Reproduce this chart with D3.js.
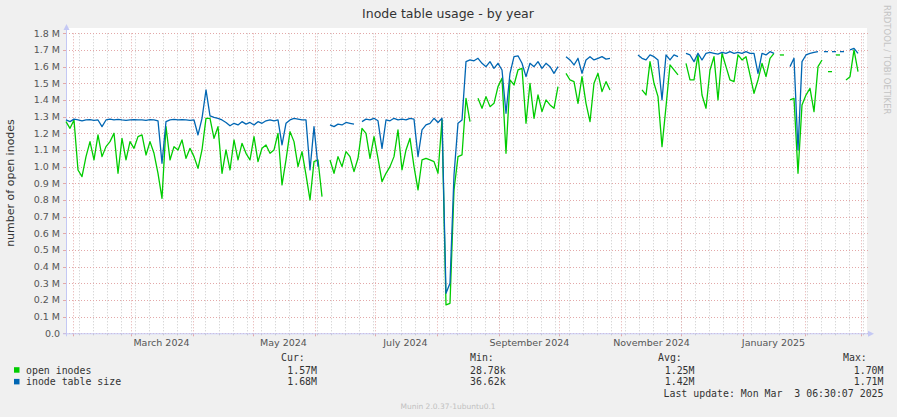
<!DOCTYPE html>
<html><head><meta charset="utf-8">
<script src="https://cdn.jsdelivr.net/npm/d3@7"></script>
<style>body{margin:0;background:#f0f0f0;} svg{display:block} text{white-space:pre}</style>
</head><body><svg id="c" width="897" height="417"></svg>
<script>
const chartTitle = "Inode table usage - by year";
const yAxisTitle = "number of open inodes";
const sideText = "RRDTOOL / TOBI OETIKER";
const footerText = "Munin 2.0.37-1ubuntu0.1";
const lastUpdate = "Last update: Mon Mar  3 06:30:07 2025";
const startDate = "2024-01-28T06:30:00Z";
const endDate = "2025-03-03T06:30:00Z";
const stepDays = 2;

// values in thousands, one sample every 2 days (null = no data)
const openInodes = [
1270,1230,1280,980,940,1060,1150,1040,1190,1060,
1120,1150,1200,960,1170,1040,1150,1110,1180,1190,
1070,1150,1080,960,810,1240,1040,1120,1100,1160,
1050,1110,1060,990,1100,1290,1290,1170,1240,960,
1100,980,1160,1040,1140,1080,1040,1180,1030,1110,
1130,1080,1100,1200,890,1040,1210,1150,1000,1090,
950,800,1030,1040,820,null,1040,960,1060,1000,
1090,1060,970,1050,1230,1200,1050,1180,1050,910,
960,1000,1060,1220,980,1100,1170,1000,860,1040,
1050,1040,1030,960,1280,170,180,860,1060,1070,
1410,1270,null,1410,1350,1420,1360,1380,1480,1530,
1080,1520,1490,1580,1590,1260,1500,1290,1430,1330,
1400,1370,1350,1480,null,1560,1520,1510,1380,1540,
1380,1270,1500,1560,1450,1510,1460,null,null,null,
null,null,null,null,1460,1430,1630,1500,1420,1120,
1360,1610,1580,1550,null,1620,1520,1520,1670,1430,
1350,1580,1660,1400,1680,1600,1520,1510,1670,1640,
1660,1550,1440,1520,1620,1540,1650,1680,null,1670,
null,1400,1410,960,1370,1430,1470,1330,1600,1640,
null,1570,null,1670,null,1520,1540,1700,1570,null
];
const tableSize = [
1280,1270,1285,1280,1275,1280,1282,1278,1280,1240,
1280,1285,1280,1283,1280,1278,1280,1282,1280,1280,
1278,1282,1280,1275,1020,1270,1280,1283,1280,1282,
1280,1278,1280,1190,1290,1460,1305,1295,1290,1280,
1265,1245,1260,1250,1270,1255,1265,1250,1270,1260,
1275,1280,1275,1280,1130,1260,1280,1290,1285,1280,
1280,980,1240,1000,null,null,1250,1240,1255,1250,
1265,1260,1255,null,1270,1285,1280,1290,1275,1110,
1280,1275,1290,1280,1285,1280,1290,1285,1060,1220,
1250,1260,1290,1265,1290,240,300,950,1260,1280,
1630,1640,1635,1650,1620,1600,1630,1590,1620,1580,
1320,1560,1660,1665,1620,1540,1620,1600,1630,1590,
1620,1600,1560,1600,null,1660,1640,1610,1650,1560,
1640,1660,1640,1650,1660,1645,1650,null,null,null,
null,null,null,1670,1650,1640,1670,1660,1640,1400,
1670,1640,1670,1660,null,1680,1670,1630,1680,1640,
1680,1685,1680,1675,1685,1680,1690,1680,1685,1680,
1690,1680,1680,1560,1680,1670,1690,1680,null,null,
null,1600,1650,1100,1630,1670,1680,1685,1690,null,
1690,null,1690,null,1690,null,1700,1710,1680,null
];

const yTicks = [0,100,200,300,400,500,600,700,800,900,1000,1100,1200,1300,1400,1500,1600,1700,1800];
const yTickLabels = ["0.0","0.1 M","0.2 M","0.3 M","0.4 M","0.5 M","0.6 M","0.7 M","0.8 M","0.9 M","1.0 M","1.1 M","1.2 M","1.3 M","1.4 M","1.5 M","1.6 M","1.7 M","1.8 M"];
const xLabelDates = ["2024-03-16","2024-05-16","2024-07-16","2024-09-16","2024-11-16","2025-01-16"];
const xLabels = ["March 2024","May 2024","July 2024","September 2024","November 2024","January 2025"];

const seriesNames = ["open inodes","inode table size"];
const seriesColors = ["#00CC00","#0066B3"];
const curVals = ["1.57M","1.68M"];
const minVals = ["28.78k","36.62k"];
const avgVals = ["1.25M","1.42M"];
const maxVals = ["1.70M","1.71M"];

const svg = d3.select("#c");
const L = 66, R = 866, T = 33.3, B = 333.3;
const t0 = new Date(startDate), t1 = new Date(endDate);
const x = d3.scaleUtc().domain([t0, t1]).range([L, R]);
const y = d3.scaleLinear().domain([0, 1800]).range([B, T]);
const DAY = 864e5;
const dates = openInodes.map((_, i) => new Date(t0.getTime() + i * stepDays * DAY));

// plot background
svg.append("rect").attr("x", L).attr("y", 28).attr("width", R - L + 1).attr("height", B - 28 + 1).attr("fill", "#fff");

// minor vertical grid (weeks)
const g = svg.append("g");
d3.utcSunday.range(t0, t1).forEach(d => {
  const xx = Math.round(x(d)) + 0.5;
  g.append("line").attr("x1", xx).attr("x2", xx).attr("y1", T).attr("y2", B)
    .attr("stroke", "#c8c8c8").attr("stroke-dasharray", "1,2");
  g.append("line").attr("x1", xx).attr("x2", xx).attr("y1", B).attr("y2", B + 2).attr("stroke", "#c8c8c8");
});
// major horizontal grid
yTicks.forEach(v => {
  const yy = Math.round(y(v)) + 0.5;
  g.append("line").attr("x1", L).attr("x2", R + 3).attr("y1", yy).attr("y2", yy)
    .attr("stroke", "#e3a8a8").attr("stroke-dasharray", "1,2");
  g.append("line").attr("x1", L - 3).attr("x2", L).attr("y1", yy).attr("y2", yy).attr("stroke", "#e3a8a8");
});
// major vertical grid (months)
d3.utcMonth.range(t0, t1).forEach(d => {
  const xx = Math.round(x(d)) + 0.5;
  g.append("line").attr("x1", xx).attr("x2", xx).attr("y1", T).attr("y2", B + 3)
    .attr("stroke", "#e3a8a8").attr("stroke-dasharray", "1,2");
  g.append("line").attr("x1", xx).attr("x2", xx).attr("y1", B).attr("y2", B + 3).attr("stroke", "#e3a8a8");
});

// axes lines
const axisColor = "#c4c8f4";
svg.append("line").attr("x1", L + 0.5).attr("x2", L + 0.5).attr("y1", B + 3).attr("y2", 28).attr("stroke", axisColor);
svg.append("path").attr("d", `M${L - 2.5},${30} L${L + 3.5},${30} L${L + 0.5},${24} Z`).attr("fill", axisColor);
svg.append("line").attr("x1", L - 3).attr("x2", R + 2).attr("y1", B + 0.5).attr("y2", B + 0.5).attr("stroke", axisColor);
svg.append("path").attr("d", `M${R + 2},${B - 2.5} L${R + 2},${B + 3.5} L${R + 8},${B + 0.5} Z`).attr("fill", axisColor);

// y labels
svg.append("g").selectAll("text").data(yTicks).join("text")
  .attr("x", 60).attr("y", d => y(d) + 3.5).attr("text-anchor", "end")
  .attr("font-family", "DejaVu Sans").attr("font-size", 9.5).attr("fill", "#555")
  .text((d, i) => yTickLabels[i]);
// x labels
svg.append("g").selectAll("text").data(xLabelDates).join("text")
  .attr("x", d => x(new Date(d + "T00:00:00Z"))).attr("y", B + 13).attr("text-anchor", "middle")
  .attr("font-family", "DejaVu Sans").attr("font-size", 9.5).attr("fill", "#555")
  .text((d, i) => xLabels[i]);

// series
function drawSeries(vals, color) {
  const data = vals.map((v, i) => ({ d: dates[i], v }));
  const line = d3.line().defined(p => p.v != null).x(p => x(p.d)).y(p => y(p.v));
  svg.append("path").attr("d", line(data)).attr("fill", "none").attr("stroke", color)
    .attr("stroke-width", 1.3).attr("stroke-linejoin", "round");
  data.forEach((p, i) => {
    if (p.v == null) return;
    const prev = i > 0 ? data[i - 1].v : null, next = i < data.length - 1 ? data[i + 1].v : null;
    if (prev == null && next == null) {
      const seg = d3.line().x(q => q[0]).y(q => q[1]);
      svg.append("path").attr("d", seg([[x(p.d) - 2, y(p.v)], [x(p.d) + 2, y(p.v)]]))
        .attr("stroke", color).attr("stroke-width", 1.3).attr("fill", "none");
    }
  });
}
drawSeries(openInodes, seriesColors[0]);
drawSeries(tableSize, seriesColors[1]);

// title
svg.append("text").attr("x", 448).attr("y", 18).attr("text-anchor", "middle")
  .attr("font-family", "DejaVu Sans").attr("font-size", 12.5).attr("fill", "#333").text(chartTitle);
// y axis title
svg.append("text").attr("transform", "translate(14,183) rotate(-90)").attr("text-anchor", "middle")
  .attr("font-family", "DejaVu Sans").attr("font-size", 11).attr("fill", "#333").text(yAxisTitle);
// side text
svg.append("text").attr("transform", "translate(884,5) rotate(90)").attr("text-anchor", "start")
  .attr("font-family", "DejaVu Sans").attr("font-size", 8.5).attr("fill", "#c4c4c4").text(sideText);

// legend
const mono = { "font-family": "DejaVu Sans Mono", "font-size": 9.9, "fill": "#333" };
function mtext(xx, yy, s, anchor) {
  const t = svg.append("text").attr("x", xx).attr("y", yy).attr("text-anchor", anchor || "start")
    .attr("xml:space", "preserve").style("white-space", "pre").text(s);
  Object.entries(mono).forEach(([k, v]) => t.attr(k, v));
  return t;
}
mtext(281, 360.5, "Cur:");
mtext(470, 360.5, "Min:");
mtext(658, 360.5, "Avg:");
mtext(843, 360.5, "Max:");
seriesNames.forEach((n, i) => {
  const yy = 373.5 + i * 11.7;
  svg.append("rect").attr("x", 14).attr("y", yy - 6.3).attr("width", 5.5).attr("height", 5.5).attr("fill", seriesColors[i]);
  mtext(26, yy, n);
  mtext(317, yy, curVals[i], "end");
  mtext(470, yy, minVals[i]);
  mtext(694.5, yy, avgVals[i], "end");
  mtext(883.5, yy, maxVals[i], "end");
});
mtext(883.5, 396.5, lastUpdate, "end");
svg.append("text").attr("x", 448).attr("y", 409).attr("text-anchor", "middle")
  .attr("font-family", "DejaVu Sans").attr("font-size", 7.5).attr("fill", "#c0c0c0").text(footerText);
</script></body></html>
